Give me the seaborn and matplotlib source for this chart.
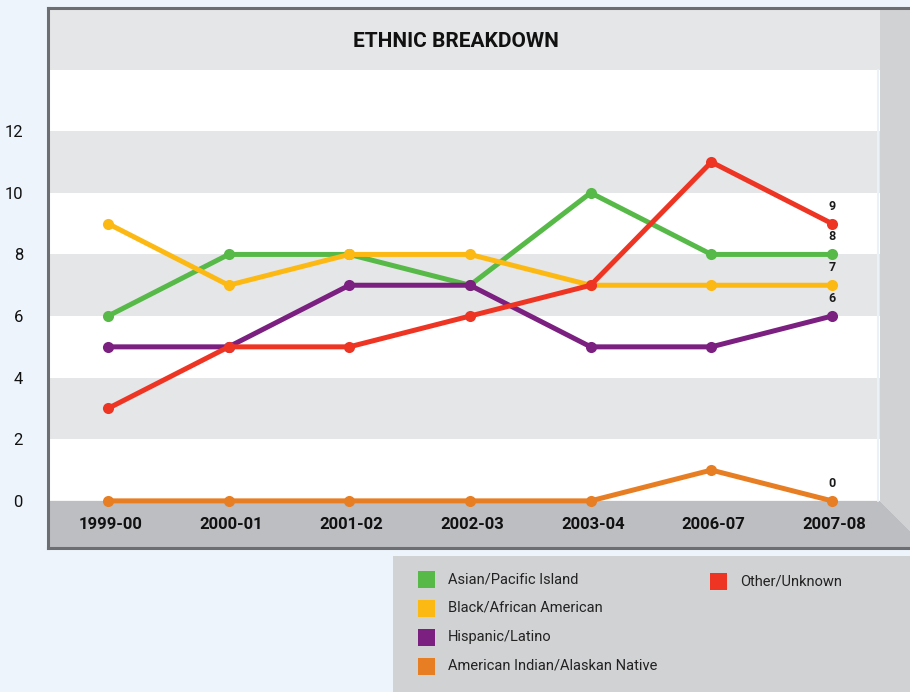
import numpy as np
import pandas as pd
import matplotlib
matplotlib.use("Agg")
import matplotlib.pyplot as plt
from matplotlib.patches import Polygon, Rectangle
import seaborn as sns

# ------------------
# Data
# ------------------
years = ["1999-00", "2000-01", "2001-02", "2002-03", "2003-04", "2006-07", "2007-08"]
groups = ["Asian/Pacific Island", "Black/African American", "Hispanic/Latino",
          "American Indian/Alaskan Native", "Other/Unknown"]
asian = [6, 8, 8, 7, 10, 8, 8]
black = [9, 7, 8, 8, 7, 7, 7]
hispanic = [5, 5, 7, 7, 5, 5, 6]
am_indian = [0, 0, 0, 0, 0, 1, 0]
other = [3, 5, 5, 6, 7, 11, 9]
colors = ["#57b947", "#fdb913", "#7b1f80", "#e77e23", "#ee3524"]
y_ticks = [0, 2, 4, 6, 8, 10, 12]

series = [asian, black, hispanic, am_indian, other]
df = pd.DataFrame({
    "pos": np.tile(np.arange(len(years)), len(groups)),
    "value": np.concatenate(series),
    "group": np.repeat(groups, len(years)),
})

sns.set_style("white")
plt.rcParams["font.family"] = ["Roboto", "DejaVu Sans"]

BG = "#edf4fb"
BAND = "#e5e6e8"
BOTTOM = "#bdbec1"
WALL = "#d1d2d4"
FRAME = "#6d6e71"

fig = plt.figure(figsize=(9.1, 6.92), dpi=100)
fig.patch.set_facecolor(BG)

ax = fig.add_axes([48 / 910, 144 / 692, 862 / 910, 540 / 692])
ax.set_facecolor("white")
ymin, ymax = -1.53, 16.0
xmin, xmax = -0.497, 6.646
wall_x = 6.398
ax.set_xlim(xmin, xmax)
ax.set_ylim(ymin, ymax)

# alternating bands
for lo in [2, 6, 10, 14]:
    ax.axhspan(lo, lo + 2, color=BAND, lw=0, zorder=0)
# bottom floor + right wall
ax.add_patch(Polygon([(xmin, ymin), (xmin, 0), (wall_x, 0), (xmax, -0.97), (xmax, ymin)],
                     closed=True, facecolor=BOTTOM, lw=0, zorder=0.5))
ax.add_patch(Polygon([(wall_x, 0), (wall_x, ymax), (xmax, ymax), (xmax, -0.97)],
                     closed=True, facecolor=WALL, lw=0, zorder=0.5))
ax.plot([wall_x - 0.02, wall_x - 0.02], [0, 14], color="#eaf1f9", lw=1.5, zorder=0.6)

sns.lineplot(data=df, x="pos", y="value", hue="group", hue_order=groups,
             palette=colors, marker="o", markersize=8, markeredgewidth=0,
             linewidth=3.6, legend=False, ax=ax, zorder=3)

# end labels
for vals in series:
    ax.text(len(years) - 1, vals[-1] + 0.36, str(vals[-1]), ha="center", va="bottom",
            fontsize=9, fontweight="bold", color="#1a1a1a", zorder=4)

# title
ax.text(2.88, 14.9, "ETHNIC BREAKDOWN", ha="center", va="center",
        fontsize=15, fontweight="bold", color="#111111")

# x labels inside floor band
for i, yr in enumerate(years):
    ax.text(i + 0.02, -0.78, yr, ha="center", va="center", fontsize=12,
            fontweight="bold", color="#111111")

ax.set_xticks([])
ax.set_yticks(y_ticks)
ax.set_yticklabels([str(t) for t in y_ticks], fontsize=12, color="#111111")
ax.tick_params(axis="y", length=0, pad=18)
ax.set_xlabel("")
ax.set_ylabel("")

ax.spines["right"].set_visible(False)
for side in ["left", "top", "bottom"]:
    ax.spines[side].set_color(FRAME)
    ax.spines[side].set_linewidth(2.2)

# legend panel
lax = fig.add_axes([393 / 910, 0, 517 / 910, 136 / 692])
lax.set_xlim(393, 910)
lax.set_ylim(692, 556)
lax.add_patch(Rectangle((393, 556), 517, 136, facecolor=WALL, lw=0))
lax.axis("off")
leg_pos = [(418, 579), (418, 608), (418, 637), (418, 666), (710, 581)]
for (lx, ly), name, col in zip(leg_pos, groups, colors):
    lax.add_patch(Rectangle((lx, ly - 8.5), 17, 17, facecolor=col, lw=0))
    lax.text(lx + 30, ly, name, ha="left", va="center", fontsize=10.5, color="#222222")

fig.savefig("out.png", dpi=100, facecolor=BG)
